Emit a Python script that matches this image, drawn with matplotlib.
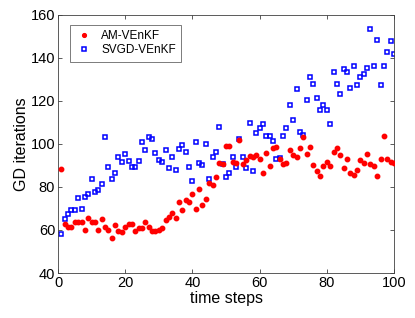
import matplotlib
matplotlib.use('Agg')
import matplotlib.pyplot as plt
import numpy as np

plt.rcParams['font.family'] = ['Liberation Sans', 'DejaVu Sans']

# ─── Data ───
steps = np.arange(1, 101)

am_venkf = [
    88.2, 62.6, 61.4, 61.4, 63.6, 63.6, 63.6, 60.0, 65.7, 63.6,
    63.6, 60.2, 64.9, 61.2, 60.0, 56.1, 62.1, 59.6, 59.2, 61.6,
    62.9, 62.6, 59.4, 60.7, 60.9, 63.9, 61.2, 59.4, 59.6, 60.0,
    60.8, 64.5, 66.0, 67.9, 65.4, 72.9, 69.5, 73.8, 73.0, 76.7,
    69.8, 79.1, 71.6, 74.6, 81.7, 81.1, 84.8, 91.3, 90.7, 98.8,
    98.8, 91.8, 91.0, 101.9, 90.7, 92.6, 94.6, 94.1, 94.9, 92.9,
    86.5, 95.7, 89.6, 98.1, 98.5, 93.2, 90.7, 91.3, 97.2, 95.0,
    94.1, 98.0, 103.4, 95.3, 98.5, 90.4, 87.3, 85.1, 89.6, 91.8,
    89.7, 96.1, 98.0, 94.9, 89.0, 93.0, 86.4, 85.6, 87.9, 92.6,
    91.3, 95.5, 90.6, 89.6, 85.0, 92.9, 103.9, 92.9, 91.8, 91.1,
]

svgd_venkf = [
    58.1, 65.1, 67.3, 69.2, 69.5, 75.0, 69.9, 75.5, 76.6, 83.6,
    77.5, 78.8, 81.5, 103.4, 89.2, 83.6, 86.4, 94.1, 91.8, 95.5,
    92.2, 89.4, 89.4, 92.2, 101.1, 97.1, 103.3, 102.2, 96.0, 92.6,
    91.5, 97.2, 88.7, 94.0, 88.1, 97.4, 99.4, 96.3, 89.3, 82.8,
    100.8, 91.2, 90.1, 99.9, 83.6, 94.0, 96.1, 107.8, 90.7, 84.8,
    86.7, 94.0, 89.3, 102.5, 94.0, 88.8, 109.9, 87.3, 105.0, 107.3,
    109.2, 103.9, 103.6, 101.4, 92.9, 93.6, 103.7, 107.4, 118.0, 110.9,
    125.3, 105.4, 104.0, 120.5, 131.3, 127.9, 121.4, 115.8, 118.3, 115.9,
    109.2, 133.3, 127.9, 123.1, 135.0, 133.2, 125.9, 136.4, 127.6, 131.0,
    132.7, 135.1, 153.2, 136.3, 148.5, 127.6, 136.4, 142.5, 147.6, 142.0,
]

# ─── Figure ───
fig = plt.figure(figsize=(4.15, 3.18), dpi=100)
ax = fig.add_axes([0.1398, 0.1415, 0.8096, 0.812])

ax.plot(steps, am_venkf, linestyle='none', marker='o', markersize=3.2,
        color='red', markeredgecolor='red', label='AM-VEnKF', zorder=3)
ax.plot(steps, svgd_venkf, linestyle='none', marker='s', markersize=3.5,
        markerfacecolor='none', markeredgecolor='blue', markeredgewidth=1.1,
        label='SVGD-VEnKF', zorder=2)

ax.set_xlim(0, 100)
ax.set_ylim(40, 160)
ax.set_xticks(np.arange(0, 101, 20))
ax.set_yticks(np.arange(40, 161, 20))
ax.tick_params(direction='in', top=True, right=True, labelsize=10.5,
               length=3, width=0.6, color='#404040', pad=2)
for s in ax.spines.values():
    s.set_color('#404040')
    s.set_linewidth(0.6)

ax.set_xlabel('time steps', fontsize=11.5, labelpad=1)
ax.set_ylabel('GD iterations', fontsize=11.5, labelpad=1)

leg = ax.legend(loc='upper left', bbox_to_anchor=(0.035, 0.962), fontsize=8.5,
                frameon=True, fancybox=False, borderpad=0.45, handlelength=1.5,
                handletextpad=0.7, labelspacing=0.2, markerscale=0.85,
                borderaxespad=0)
leg.get_frame().set_edgecolor('#404040')
leg.get_frame().set_linewidth(0.6)

fig.savefig('out.png', dpi=100, facecolor='white')
plt.close(fig)
